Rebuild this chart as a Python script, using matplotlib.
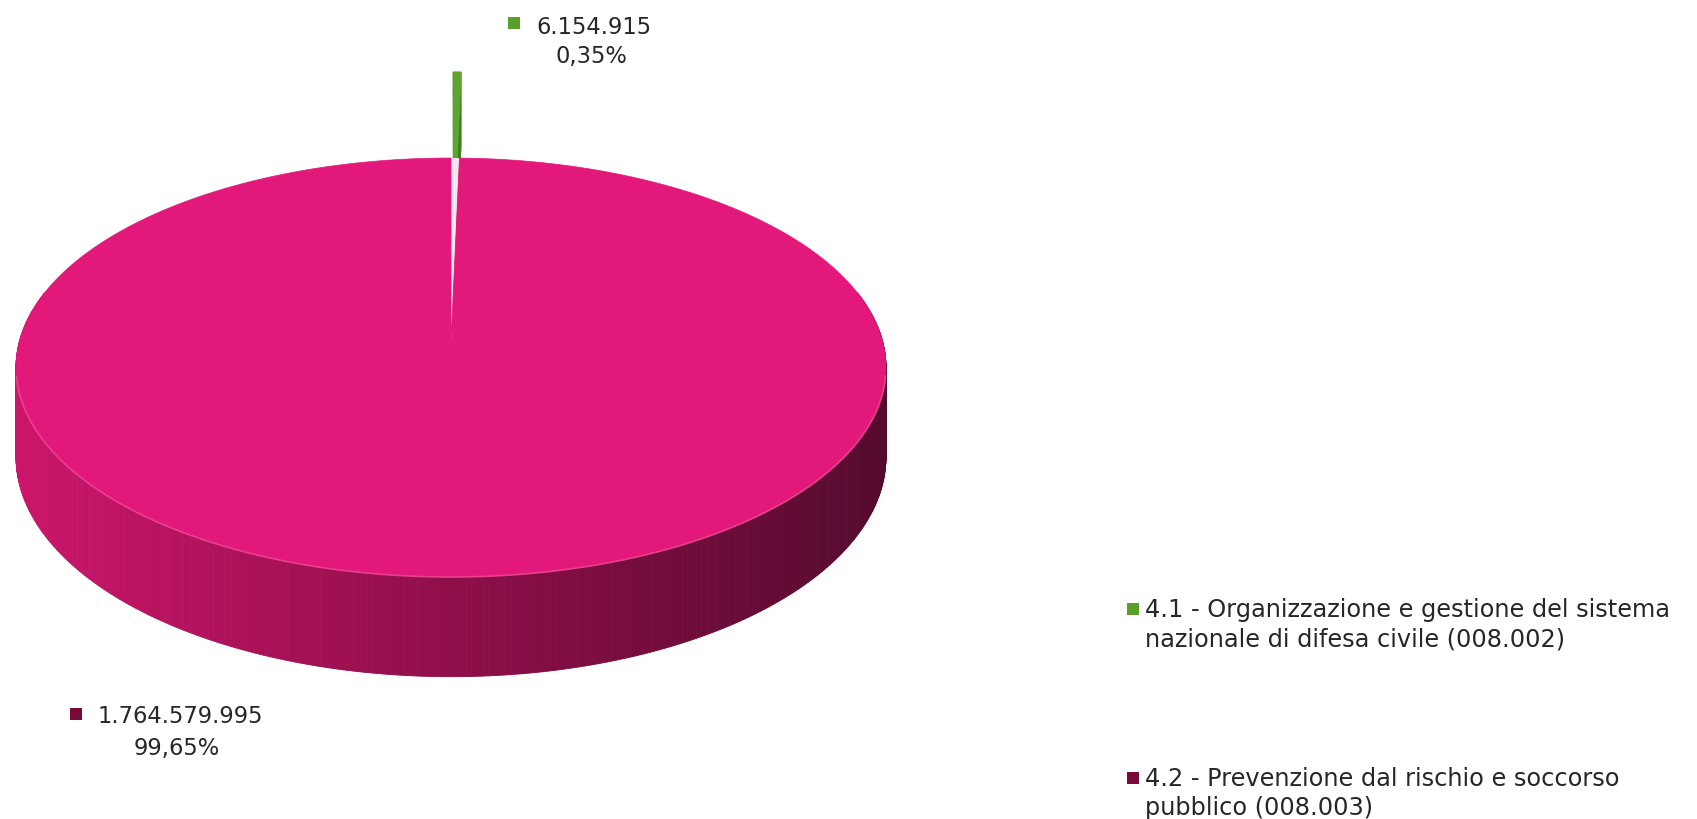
import numpy as np
import matplotlib
matplotlib.use("Agg")
import matplotlib.pyplot as plt
from matplotlib.patches import Polygon, Rectangle
from matplotlib.collections import PolyCollection
from matplotlib.colors import to_rgb

# ---- data -------------------------------------------------------------
categories = [
    "4.1 - Organizzazione e gestione del sistema\nnazionale di difesa civile (008.002)",
    "4.2 - Prevenzione dal rischio e soccorso\npubblico (008.003)",
]
values = [6154915, 1764579995]
top_colors = ["#5EA52F", "#E3187B"]
cut_colors = ["#3F7F1E", "#F8E6EF"]
key_colors = ["#5A9E2C", "#7A0B36"]
explode = [0.55, 0.0]

TEXT = "#262626"
FONT = "DejaVu Sans"

# ---- canvas in pixel units -------------------------------------------
W, H = 1697, 819
fig = plt.figure(figsize=(W / 100, H / 100), dpi=100)
ax = fig.add_axes([0, 0, 1, 1])
ax.set_xlim(0, W)
ax.set_ylim(H, 0)
ax.axis("off")

# tilted disc with mild perspective
XC, K = 451, 432
P, Q, C = 343, 166.5, -0.117
DEPTH = 88


def proj(u, v, z=0.0):
    w = 1 + C * v
    return XC + K * u / w, (P + Q * v + DEPTH * z) / w


def disc_pt(theta, r=1.0, off=(0.0, 0.0)):
    return r * np.sin(theta) + off[0], -r * np.cos(theta) + off[1]


def fmt_int(n):
    return f"{n:,}".replace(",", ".")


def fmt_pct(p):
    return f"{p:.2f}%".replace(".", ",")


total = float(sum(values))
fracs = [v / total for v in values]
bounds = np.concatenate([[0.0], np.cumsum(fracs)]) * 2 * np.pi

# ---- exploded small slice (drawn first: it sits behind) -------------
a0, a1 = bounds[0], bounds[1]
mid = 0.5 * (a0 + a1)
off = (explode[0] * np.sin(mid), -explode[0] * np.cos(mid))
ths = np.linspace(a0, a1, 12)
tip = disc_pt(0, 0, off)
for a in (a0, a1):
    ru, rv = disc_pt(a, 1, off)
    quad = [proj(*tip), proj(ru, rv), proj(ru, rv, 1), proj(tip[0], tip[1], 1)]
    ax.add_patch(Polygon(quad, closed=True, fc=cut_colors[0], ec=cut_colors[0], lw=0.5))
top_pts = [proj(*tip)] + [proj(*disc_pt(t, 1, off)) for t in ths]
ax.add_patch(Polygon(top_pts, closed=True, fc=top_colors[0], ec=top_colors[0], lw=0.6))

# ---- main slice: side wall --------------------------------------------
b0, b1 = bounds[1], bounds[2]
n = 900
ts = np.linspace(b0, b1, n)
stops = np.array([to_rgb("#CC156C"), to_rgb("#8F0E49"), to_rgb("#540A2D")])
xl, xr = XC - 435, XC + 435
polys, cols = [], []
for t_a, t_b in zip(ts[:-1], ts[1:]):
    ua, va = disc_pt(t_a)
    ub, vb = disc_pt(t_b)
    if 0.5 * (va + vb) < -0.25:
        continue
    quad = [proj(ua, va), proj(ub, vb), proj(ub, vb, 1), proj(ua, va, 1)]
    xm = 0.5 * (quad[0][0] + quad[1][0])
    s = np.clip((xm - xl) / (xr - xl), 0, 1)
    if s < 0.5:
        c = stops[0] + (stops[1] - stops[0]) * (s / 0.5)
    else:
        c = stops[1] + (stops[2] - stops[1]) * ((s - 0.5) / 0.5)
    polys.append(quad)
    cols.append(c)
ax.add_collection(PolyCollection(polys, facecolors=cols, edgecolors=cols, linewidths=0.6))

# notch left by the pulled-out slice
notch = [proj(0, 0)] + [proj(*disc_pt(t)) for t in np.linspace(a0, a1, 6)]
ax.add_patch(Polygon(notch, closed=True, fc=cut_colors[1], ec="none"))

# top face
face = [proj(0, 0)] + [proj(*disc_pt(t)) for t in ts]
ax.add_patch(Polygon(face, closed=True, fc=top_colors[1], ec=top_colors[1], lw=0.5))

# soft highlight along the front rim
rim_t = np.linspace(np.pi * 0.55, np.pi * 1.45, 200)
rx, ry = zip(*[proj(*disc_pt(t)) for t in rim_t])
ax.plot(rx, ry, color="#EE4A92", lw=1.2, alpha=0.8, solid_capstyle="round")

# ---- data labels --------------------------------------------------------
lab_fs = 16.3
label_pos = [  # (marker x, marker y, centre x line 1, centre x line 2, baseline 1, baseline 2)
    (508, 17, 594, 591, 34, 63),
    (70, 708, 180, 177, 723, 755),
]
for i, (mx, my, cx1, cx2, b1_, b2_) in enumerate(label_pos):
    ax.add_patch(Rectangle((mx, my), 12, 12, fc=key_colors[i], ec="none"))
    ax.text(cx1, b1_, fmt_int(values[i]), ha="center", va="baseline",
            fontsize=lab_fs, color=TEXT, family=FONT)
    ax.text(cx2, b2_, fmt_pct(100 * fracs[i]), ha="center", va="baseline",
            fontsize=lab_fs, color=TEXT, family=FONT)

# ---- legend -------------------------------------------------------------
leg_fs = 17.3
leg_y = [617, 786]
for i, cat in enumerate(categories):
    first, second = cat.split("\n")
    ax.add_patch(Rectangle((1127, leg_y[i] - 14), 12, 12, fc=key_colors[i], ec="none"))
    ax.text(1145, leg_y[i], first, ha="left", va="baseline",
            fontsize=leg_fs, color=TEXT, family=FONT)
    ax.text(1145, leg_y[i] + 29, second, ha="left", va="baseline",
            fontsize=leg_fs, color=TEXT, family=FONT)

fig.savefig("out.png", dpi=100, facecolor="white")
